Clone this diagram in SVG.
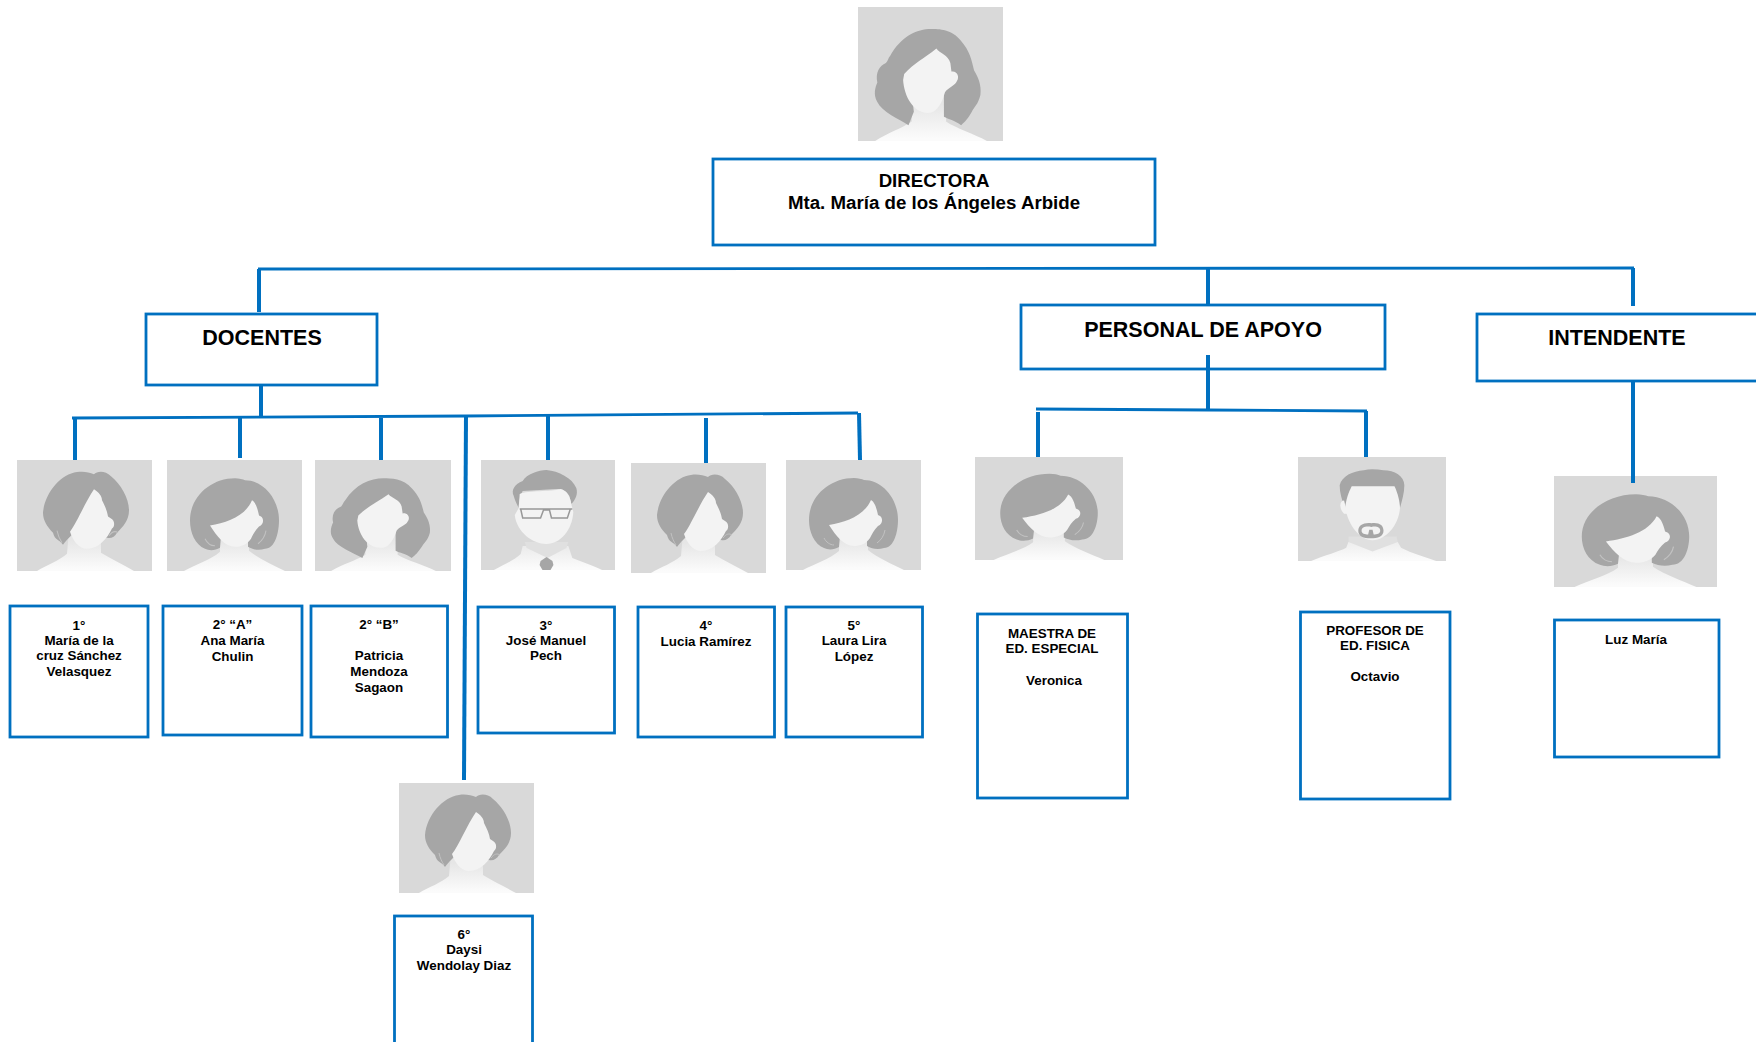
<svg xmlns="http://www.w3.org/2000/svg" xmlns:xlink="http://www.w3.org/1999/xlink" width="1756" height="1042" viewBox="0 0 1756 1042">
<style>
.box{fill:#fff;stroke:#0070c0;stroke-width:2.8}
.t{font-family:"Liberation Sans",Arial,sans-serif;font-weight:700;fill:#000;text-anchor:middle}
.s{font-size:13.4px}.d{font-size:18.7px}.h{font-size:21.5px}
.c{fill:none;stroke:#0070c0;stroke-width:2.8}
.v{fill:none;stroke:#0070c0;stroke-width:4}
.hair{fill:#a6a6a6}.face{fill:#f3f3f3}.bg{fill:#d9d9d9}.body{fill:url(#bodyG)}
.shade{fill:#e0e0e0}
.wisp{fill:none;stroke:#c2c2c2;stroke-width:1}
</style>
<defs>
<linearGradient id="bodyG" gradientUnits="userSpaceOnUse" x1="0" y1="80" x2="0" y2="108"><stop offset="0" stop-color="#e6e6e6"/><stop offset="1" stop-color="#fbfbfb"/></linearGradient>
<symbol id="wavy" viewBox="0 0 135 110" preserveAspectRatio="none">
<rect class="bg" width="135" height="110"/>
<path class="body" d="M16 110C28 103 40 100 50 94L50 65L82 65L82 94C92 100 108 104 120 110Z"/>
<path class="hair" d="M30 40C40 24 55 18 68 18C75 18 88 18 96 28C104 36 106 44 108 52C112 58 115 64 114 72C112 80 108 82 106 86C102 92 100 94 96 97C90 93 84 92 80 90L80 70L50 70L52 86L47 97C38 92 22 86 18 78C14 72 16 66 18 62C16 54 20 48 26 46C28 44 28 42 30 40Z"/>
<path class="face" d="M73 34C76 38 84 39 86 46L87 53C92 52 95 57 92 61C90 65 84 66 81 70C77 82 72 87 65 87C52 87 43 74 42 60L43 55C52 46 62 42 73 34Z"/>
</symbol>
<symbol id="swept" viewBox="0 0 135 110" preserveAspectRatio="none">
<rect class="bg" width="135" height="110"/>
<path class="body" d="M20 110C30 104 42 100 50 93L52 70L84 70L84 92C94 98 106 104 117 110Z"/>
<path class="hair" d="M26 52C28 32 44 14 60 12C66 11 72 12 77 14C80 11 88 10 94 16C104 24 112 38 112 50C112 60 106 66 100 72C98 76 94 78 90 77L58 70C54 76 50 78 46 84C42 78 38 80 36 72C30 66 26 60 26 52Z"/>
<path class="face" d="M77 29C82 32 85 36 85 40C88 46 90 50 91 56L94 58C98 60 98 66 95 68C90 78 82 88 70 88C62 88 56 80 53 71C60 62 68 42 77 29Z"/>
<path class="wisp" d="M92 75C95 71 98 70 101 72M40 70C41 75 43 79 45 82"/>
</symbol>
<symbol id="bob" viewBox="0 0 135 110" preserveAspectRatio="none">
<rect class="bg" width="135" height="110"/>
<path class="body" d="M17 110C28 104 44 99 53 91L53 70L82 70L82 90C92 98 106 104 118 110Z"/>
<path class="hair" d="M23 60C23 36 44 18 68 18C72 18 76 19 78 20C96 20 112 38 112 60C112 72 108 88 98 88C92 90 86 89 81 86L81 76L54 76L53 87C48 90 42 90 38 88C28 84 23 72 23 60Z"/>
<path class="face" d="M85 40C89 42 91 50 92 55L94 56C97 58 97 64 92 66C88 70 86 74 84 78C80 84 74 86 68 86C58 86 50 76 43 65C60 62 78 56 85 40Z"/>
<path class="wisp" d="M38 78C40 82 44 85 48 85M99 70C98 76 95 80 91 83"/>
</symbol>
<symbol id="glasses" viewBox="0 0 135 110" preserveAspectRatio="none">
<rect class="bg" width="135" height="110"/>
<path class="body" d="M13 110C24 104 34 100 40 94L42 86L88 86L92 98C102 102 114 106 122 110Z"/>
<path class="shade" d="M44 82L88 82L86 88L67 98L46 88Z"/>
<path class="hair" d="M33 36C30 30 34 24 42 21C46 14 58 10 66 10C78 11 92 18 96 28C98 34 95 40 91 44L89 36C86 31 82 29 76 29L42 31C39 36 38 44 38 48C36 44 34 40 33 36Z"/>
<path class="face" d="M39 34C48 30 70 32 80 29C86 30 90 36 91 44L93 52C92 70 80 84 66 84C52 84 36 72 34 55L38 48Z"/>
<path d="M39 49H92M40 49L42 58H60L63 50H69L71 58H87L90 49" fill="none" stroke="#989898" stroke-width="1.5"/>
<path class="hair" d="M60 101L66 97L72 101L73 105L70 110H62L59 105Z"/>
</symbol>
<symbol id="goatee" viewBox="0 0 135 110" preserveAspectRatio="none">
<rect class="bg" width="135" height="110"/>
<path class="body" d="M12 110C24 104 38 100 44 96L46 90L91 90L94 96C104 102 116 106 126 110Z"/>
<path class="shade" d="M46 84L90 84L91 90L68 100L46 90Z"/>
<path class="hair" d="M38 30C40 20 50 15 60 14C66 12 72 13 78 14C88 14 97 20 97 30C97 38 95 46 93 54L88 32L49 32L43 54C40 46 38 38 38 30Z"/>
<path class="face" d="M49 31H88C91 38 93 48 93 54C92 72 80 88 68 88C56 88 46 72 43 54C44 44 46 38 49 31Z"/>
<path class="face" d="M42 46C38 46 37 54 42 60L45 60Z"/>
<path class="hair" fill-rule="evenodd" d="M55 78C55 72 60 69 67 70C74 69 78 72 78 78C78 84 73 86 66 86C60 86 55 84 55 78ZM58 78C58 81 61 82 64 82L65 77H68L69 82C72 82 75 81 75 78C75 74 71 73 67 74C62 73 58 74 58 78Z"/>
</symbol>
</defs>
<rect width="1756" height="1042" fill="#fff"/>

<g id="directora">
<use href="#wavy" x="858" y="7" width="145" height="134"/>
<rect class="box" x="713" y="159" width="442" height="86"/>
<text class="t d" x="934" y="187">DIRECTORA</text>
<text class="t d" x="934" y="209">Mta. María de los Ángeles Arbide</text>
</g>
<g id="docentes">
<rect class="box" x="146" y="314" width="231" height="71"/>
<text class="t h" x="262" y="345">DOCENTES</text>
</g>
<g id="personal-apoyo">
<rect class="box" x="1021" y="305" width="364" height="64"/>
<text class="t h" x="1203" y="337">PERSONAL DE APOYO</text>
</g>
<g id="intendente">
<rect class="box" x="1477" y="314" width="285" height="67"/>
<text class="t h" x="1617" y="345">INTENDENTE</text>
</g>

<g id="primero">
<use href="#swept" x="17" y="460" width="135" height="111"/>
<rect class="box" x="10" y="606" width="138" height="131"/>
<text class="t s" x="79" y="630">1°</text>
<text class="t s" x="79" y="645">María de la</text>
<text class="t s" x="79" y="660">cruz Sánchez</text>
<text class="t s" x="79" y="676">Velasquez</text>
</g>
<g id="segundo-a">
<use href="#bob" x="167" y="460" width="135" height="111"/>
<rect class="box" x="163" y="606" width="139" height="129"/>
<text class="t s" x="232.500" y="629">2° “A”</text>
<text class="t s" x="232.500" y="645">Ana María</text>
<text class="t s" x="232.500" y="661">Chulin</text>
</g>
<g id="segundo-b">
<use href="#wavy" x="315" y="460" width="136" height="111"/>
<rect class="box" x="311" y="606" width="136.500" height="131"/>
<text class="t s" x="379" y="629">2° “B”</text>
<text class="t s" x="379" y="660">Patricia</text>
<text class="t s" x="379" y="676">Mendoza</text>
<text class="t s" x="379" y="692">Sagaon</text>
</g>
<g id="tercero">
<use href="#glasses" x="481" y="460" width="134" height="110"/>
<rect class="box" x="478" y="607" width="136.500" height="126"/>
<text class="t s" x="546" y="630">3°</text>
<text class="t s" x="546" y="645">José Manuel</text>
<text class="t s" x="546" y="660">Pech</text>
</g>
<g id="cuarto">
<use href="#swept" x="631" y="463" width="135" height="110"/>
<rect class="box" x="638" y="607" width="136.500" height="130"/>
<text class="t s" x="706" y="630">4°</text>
<text class="t s" x="706" y="646">Lucia Ramírez</text>
</g>
<g id="quinto">
<use href="#bob" x="786" y="460" width="135" height="110"/>
<rect class="box" x="786" y="607" width="136.500" height="130"/>
<text class="t s" x="854" y="630">5°</text>
<text class="t s" x="854" y="645">Laura Lira</text>
<text class="t s" x="854" y="661">López</text>
</g>
<g id="sexto">
<use href="#swept" x="399" y="783" width="135" height="110"/>
<rect class="box" x="394.500" y="916" width="138" height="140"/>
<text class="t s" x="464" y="939">6°</text>
<text class="t s" x="464" y="954">Daysi</text>
<text class="t s" x="464" y="970">Wendolay Diaz</text>
</g>
<g id="maestra-especial">
<use href="#bob" x="975" y="457" width="148" height="103"/>
<rect class="box" x="977.500" y="614" width="150" height="184"/>
<text class="t s" x="1052" y="638">MAESTRA DE</text>
<text class="t s" x="1052" y="653">ED. ESPECIAL</text>
<text class="t s" x="1054" y="685">Veronica</text>
</g>
<g id="profesor-fisica">
<use href="#goatee" x="1298" y="457" width="148" height="104"/>
<rect class="box" x="1300.500" y="612" width="149.500" height="187"/>
<text class="t s" x="1375" y="635">PROFESOR DE</text>
<text class="t s" x="1375" y="650">ED. FISICA</text>
<text class="t s" x="1375" y="681">Octavio</text>
</g>
<g id="luz-maria">
<use href="#bob" x="1554" y="476" width="163" height="111"/>
<rect class="box" x="1554.500" y="620" width="164.500" height="137"/>
<text class="t s" x="1636" y="644">Luz María</text>
</g>

<g id="connectors">
<path class="c" d="M258 269L1634 268"/>
<path class="v" d="M259 269V312"/>
<path class="v" d="M1208 268V305"/>
<path class="v" d="M1633 268V306"/>
<path class="v" d="M261 385V417"/>
<path class="c" d="M72 418L466 416L858 413"/>
<path class="v" d="M75 419V460"/>
<path class="v" d="M240 418V458"/>
<path class="v" d="M381 418V460"/>
<path class="v" d="M466 415L464 780"/>
<path class="v" d="M548 415V460"/>
<path class="v" d="M706 418V463"/>
<path class="v" d="M859 413L860 460"/>
<path class="v" d="M1208 355V411"/>
<path class="c" d="M1036 409L1208 410L1367 411"/>
<path class="v" d="M1038 412V457"/>
<path class="v" d="M1366 411V457"/>
<path class="v" d="M1633 382V483"/>
</g>
</svg>
